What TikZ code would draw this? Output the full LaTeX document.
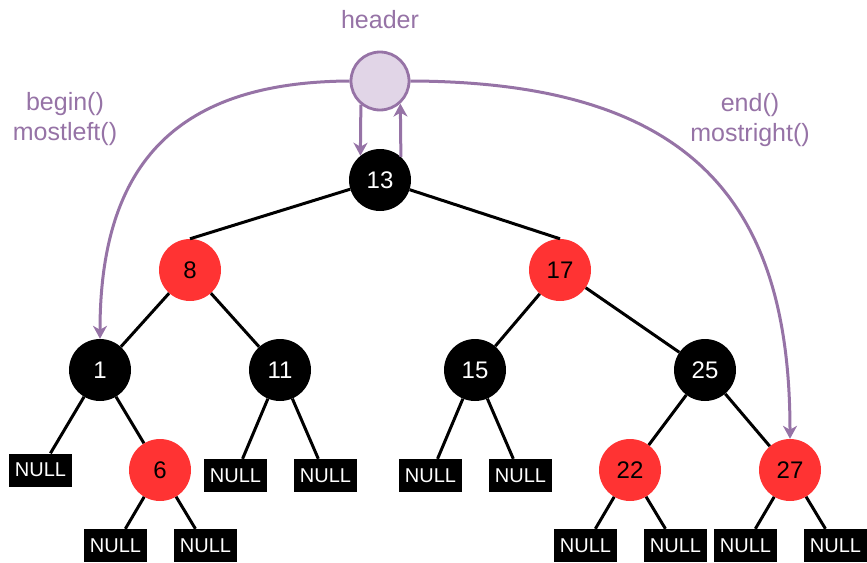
\documentclass[tikz,border=0pt]{standalone}
\usepackage{fontspec}
\setmainfont{Liberation Sans}
\usetikzlibrary{arrows.meta}
\definecolor{hdrfill}{HTML}{E1D5E7}
\definecolor{hdrline}{HTML}{9673A6}
\definecolor{rbred}{HTML}{FF3333}

\begin{document}
\begin{tikzpicture}[x=1pt, y=-1pt,
  blacknode/.style={circle, fill=black, text=white, minimum size=62pt, inner sep=0pt, font=\fontsize{24}{28}\selectfont},
  rednode/.style={circle, fill=rbred, text=black, minimum size=62pt, inner sep=0pt, font=\fontsize{24}{28}\selectfont},
  nil/.style={rectangle, fill=black, text=white, minimum width=63pt, minimum height=33pt, inner sep=0pt, font=\fontsize{20}{23}\selectfont},
  hdr/.style={circle, draw=hdrline, fill=hdrfill, line width=2.8pt, minimum size=58pt},
  lbl/.style={text=hdrline, align=center, font=\fontsize{25}{30}\selectfont},
  tree/.style={line width=3pt},
  ptr/.style={draw=hdrline, line width=3pt, -{Stealth[length=13pt, width=14pt, inset=4pt]}}
]
  \useasboundingbox (0,0) rectangle (867,562);

  % header and its labels
  \node[lbl] (htxt) at (380,20) {header};
  \node[hdr] (head) at (380,81) {};
  \node[lbl] (lft) at (65,119) {begin()\\mostleft()};
  \node[lbl] (rgt) at (750,120) {end()\\mostright()};

  % tree
  \node[blacknode] (n13) at (380,180) {13};
  \node[rednode]   (n8)  at (190,270) {8};
  \node[rednode]   (n17) at (560,270) {17};
  \node[blacknode] (n1)  at (100,370) {1};
  \node[blacknode] (n11) at (280,370) {11};
  \node[blacknode] (n15) at (475,370) {15};
  \node[blacknode] (n25) at (705,370) {25};
  \node[rednode]   (n6)  at (160,470) {6};
  \node[rednode]   (n22) at (630,470) {22};
  \node[rednode]   (n27) at (790,470) {27};

  % leaves
  \node[nil] (z1)  at (40.5,470)   {NULL};
  \node[nil] (z6a) at (115.5,545.5) {NULL};
  \node[nil] (z6b) at (205.5,545.5) {NULL};
  \node[nil] (z11a) at (235.5,475.5) {NULL};
  \node[nil] (z11b) at (325.5,475.5) {NULL};
  \node[nil] (z15a) at (430.5,475.5) {NULL};
  \node[nil] (z15b) at (520.5,475.5) {NULL};
  \node[nil] (z22a) at (585.5,545.5) {NULL};
  \node[nil] (z22b) at (675.5,545.5) {NULL};
  \node[nil] (z27a) at (745.5,545.5) {NULL};
  \node[nil] (z27b) at (835.5,545.5) {NULL};

  \path[tree]
  (n13) edge (n8.north)
        edge (n17.north)
  (n8)  edge (n1)
        edge (n11)
  (n17) edge (n15)
        edge (n25)
  (n1)  edge (z1)
        edge (n6)
  (n6)  edge (z6a)
        edge (z6b)
  (n11) edge (z11a)
        edge (z11b)
  (n15) edge (z15a)
        edge (z15b)
  (n25) edge (n22)
        edge (n27)
  (n22) edge (z22a)
        edge (z22b)
  (n27) edge (z27a)
        edge (z27b);

  % header links
  \draw[ptr] (head.-129) -- (n13.129);
  \draw[ptr] (n13.48) -- (head.-48);
  \draw[ptr] (head.west) .. controls (180,82) and (100,160) .. (n1.north);
  \draw[ptr] (head.east) .. controls (690,82) and (790,200) .. (n27.north);
\end{tikzpicture}
\end{document}
